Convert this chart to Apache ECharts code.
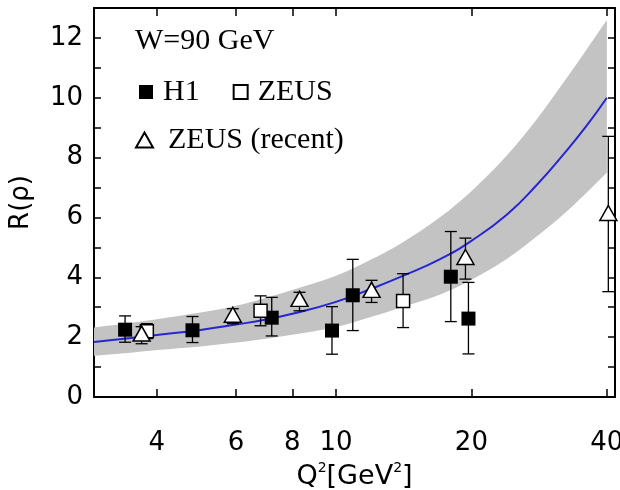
<!DOCTYPE html>
<html>
<head>
<meta charset="utf-8">
<script src="https://cdn.jsdelivr.net/npm/echarts@6/dist/echarts.min.js"></script>
<style>
  html, body { margin: 0; padding: 0; background: #fff; }
  #chart { width: 620px; height: 490px; }
</style>
</head>
<body>
<div id="chart"></div>
<script>
// model curve and its uncertainty band
var bandQ2   = [2.9, 3.5, 4, 5, 6, 7, 8, 10, 12, 14, 17, 20, 24, 28, 32, 36, 40];
var curveR   = [1.84, 1.97, 2.07, 2.24, 2.42, 2.59, 2.78, 3.18, 3.62, 4.03, 4.6, 5.22, 6.1, 7.1, 8.1, 9.05, 10.0];
var bandLow  = [1.38, 1.48, 1.57, 1.69, 1.82, 1.95, 2.08, 2.34, 2.68, 3.0, 3.42, 3.92, 4.62, 5.38, 6.1, 6.82, 7.5];
var bandHigh = [2.32, 2.48, 2.6, 2.82, 3.05, 3.32, 3.58, 4.05, 4.6, 5.15, 6.0, 6.88, 8.08, 9.3, 10.5, 11.6, 12.6];

// data points: Q2, R, error low, error high
var h1Q2   = [3.4, 4.8, 7.2, 9.8, 10.9, 18.0, 19.7];
var h1R    = [2.25, 2.23, 2.65, 2.22, 3.4, 4.02, 2.62];
var h1Lo   = [1.83, 1.82, 2.04, 1.43, 2.22, 2.52, 1.44];
var h1Hi   = [2.71, 2.69, 3.33, 3.02, 4.6, 5.53, 3.83];

var zeusQ2 = [3.8, 6.8, 14.1];
var zeusR  = [2.2, 2.88, 3.21];
var zeusLo = [1.95, 2.38, 2.32];
var zeusHi = [2.45, 3.38, 4.12];

var recQ2  = [3.7, 5.9, 8.3, 12.0, 19.4, 40.3];
var recR   = [2.12, 2.75, 3.28, 3.58, 4.68, 6.15];
var recLo  = [1.78, 2.45, 2.88, 3.16, 3.94, 3.52];
var recHi  = [2.35, 2.95, 3.5, 3.9, 5.31, 8.71];

var xTicks = [4, 6, 8, 10, 20, 40];

var chart = echarts.init(document.getElementById('chart'));

function pairs(xs, ys) {
  return xs.map(function (x, i) { return [x, ys[i]]; });
}

function errorBars(name, xs, lo, hi) {
  return {
    type: 'custom',
    name: name + ' err',
    silent: true,
    z: 3,
    data: xs.map(function (x, i) { return [x, lo[i], hi[i]]; }),
    encode: { x: 0, y: [1, 2] },
    renderItem: function (params, api) {
      var a = api.coord([api.value(0), api.value(1)]);
      var b = api.coord([api.value(0), api.value(2)]);
      var w = 6;
      var st = { stroke: '#000', lineWidth: 1.3 };
      return {
        type: 'group',
        children: [
          { type: 'line', shape: { x1: a[0], y1: a[1], x2: b[0], y2: b[1] }, style: st },
          { type: 'line', shape: { x1: a[0] - w, y1: a[1], x2: a[0] + w, y2: a[1] }, style: st },
          { type: 'line', shape: { x1: b[0] - w, y1: b[1], x2: b[0] + w, y2: b[1] }, style: st }
        ]
      };
    }
  };
}

var axisFont = { color: '#000', fontFamily: 'DejaVu Sans', fontSize: 26 };
var serif = { fontFamily: 'Liberation Serif', fontSize: 30, color: '#000' };

var option = {
  animation: false,
  backgroundColor: '#fff',
  title: {
    text: 'W=90 GeV',
    left: 130, top: 21,
    textStyle: Object.assign({ fontWeight: 'normal' }, serif)
  },
  legend: [{
    data: ['H1', 'ZEUS'],
    left: 139, top: 77, padding: 0,
    itemWidth: 14, itemHeight: 14, itemGap: 33,
    textStyle: Object.assign({ padding: [0, 0, 0, 5] }, serif)
  }, {
    data: ['ZEUS (recent)'],
    left: 135, top: 125, padding: 0,
    itemWidth: 17, itemHeight: 15,
    textStyle: Object.assign({ padding: [0, 0, 0, 10] }, serif)
  }],
  grid: { left: 94, right: 5, top: 8, bottom: 93, outerBoundsMode: 'none' },
  xAxis: [{
    type: 'log', logBase: 10, min: 2.9, max: 41.7,
    axisLine: { onZero: false, lineStyle: { color: '#000', width: 2 } },
    axisTick: { inside: true, length: 8, customValues: xTicks, lineStyle: { color: '#000', width: 1.5 } },
    minorTick: { show: false },
    splitLine: { show: false },
    axisLabel: Object.assign({ customValues: xTicks, margin: 33,
      formatter: function (v) { return String(Math.round(v)); } }, axisFont),
    name: 'Q{s|2}[GeV{s|2}]',
    nameLocation: 'middle', nameGap: 56,
    nameTextStyle: {
      color: '#000', fontFamily: 'DejaVu Sans', fontSize: 27, lineHeight: 32,
      rich: { s: { fontFamily: 'DejaVu Sans', fontSize: 14, verticalAlign: 'top', lineHeight: 32 } }
    }
  }, {
    type: 'log', logBase: 10, min: 2.9, max: 41.7, position: 'top',
    axisLine: { onZero: false, lineStyle: { color: '#000', width: 2 } },
    axisTick: { inside: true, length: 8, customValues: xTicks, lineStyle: { color: '#000', width: 1.5 } },
    axisLabel: { show: false },
    splitLine: { show: false }
  }],
  yAxis: [{
    type: 'value', min: 0, max: 13, interval: 1,
    axisLine: { show: true, lineStyle: { color: '#000', width: 2 } },
    axisTick: { inside: true, length: 7, lineStyle: { color: '#000', width: 1.5 } },
    splitLine: { show: false },
    axisLabel: Object.assign({ margin: 11,
      formatter: function (v) { return v % 2 === 0 ? String(v) : ''; } }, axisFont),
    name: 'R(ρ)',
    nameLocation: 'middle', nameGap: 60, nameRotate: 90,
    nameTextStyle: { color: '#000', fontFamily: 'DejaVu Sans', fontSize: 26 }
  }, {
    type: 'value', min: 0, max: 13, interval: 1, position: 'right',
    axisLine: { show: true, lineStyle: { color: '#000', width: 2 } },
    axisTick: { inside: true, length: 7, lineStyle: { color: '#000', width: 1.5 } },
    axisLabel: { show: false },
    splitLine: { show: false }
  }],
  series: [
    {
      type: 'custom',
      name: 'band',
      silent: true,
      z: 1,
      data: bandQ2.map(function (q, i) { return [q, bandLow[i], bandHigh[i]]; }),
      encode: { x: 0, y: [1, 2] },
      renderItem: function (params, api) {
        if (params.dataIndex !== 0) return null;
        var n = bandQ2.length, pts = [], i;
        // corner points doubled so the smoothing keeps the ends square
        pts.push(api.coord([bandQ2[0], bandHigh[0]]));
        for (i = 0; i < n; i++) pts.push(api.coord([bandQ2[i], bandHigh[i]]));
        pts.push(api.coord([bandQ2[n - 1], bandHigh[n - 1]]));
        pts.push(api.coord([bandQ2[n - 1], bandLow[n - 1]]));
        for (i = n - 1; i >= 0; i--) pts.push(api.coord([bandQ2[i], bandLow[i]]));
        pts.push(api.coord([bandQ2[0], bandLow[0]]));
        return { type: 'polygon', shape: { points: pts, smooth: 0.35 }, style: { fill: '#c3c3c3' } };
      }
    },
    {
      type: 'line',
      name: 'model',
      data: pairs(bandQ2, curveR),
      smooth: true,
      showSymbol: false,
      z: 2,
      lineStyle: { color: '#2626d4', width: 2 }
    },
    errorBars('H1', h1Q2, h1Lo, h1Hi),
    errorBars('ZEUS', zeusQ2, zeusLo, zeusHi),
    errorBars('ZEUS (recent)', recQ2, recLo, recHi),
    {
      type: 'scatter', name: 'H1',
      data: pairs(h1Q2, h1R),
      symbol: 'rect', symbolSize: 14, z: 4,
      itemStyle: { color: '#000', opacity: 1 }
    },
    {
      type: 'scatter', name: 'ZEUS',
      data: pairs(zeusQ2, zeusR),
      symbol: 'rect', symbolSize: 13, z: 4,
      itemStyle: { color: '#fff', borderColor: '#000', borderWidth: 1.5, opacity: 1 }
    },
    {
      type: 'scatter', name: 'ZEUS (recent)',
      data: pairs(recQ2, recR),
      symbol: 'triangle', symbolSize: [17, 15], z: 4,
      itemStyle: { color: '#fff', borderColor: '#000', borderWidth: 1.5, opacity: 1 }
    }
  ]
};

chart.setOption(option);
</script>
</body>
</html>
